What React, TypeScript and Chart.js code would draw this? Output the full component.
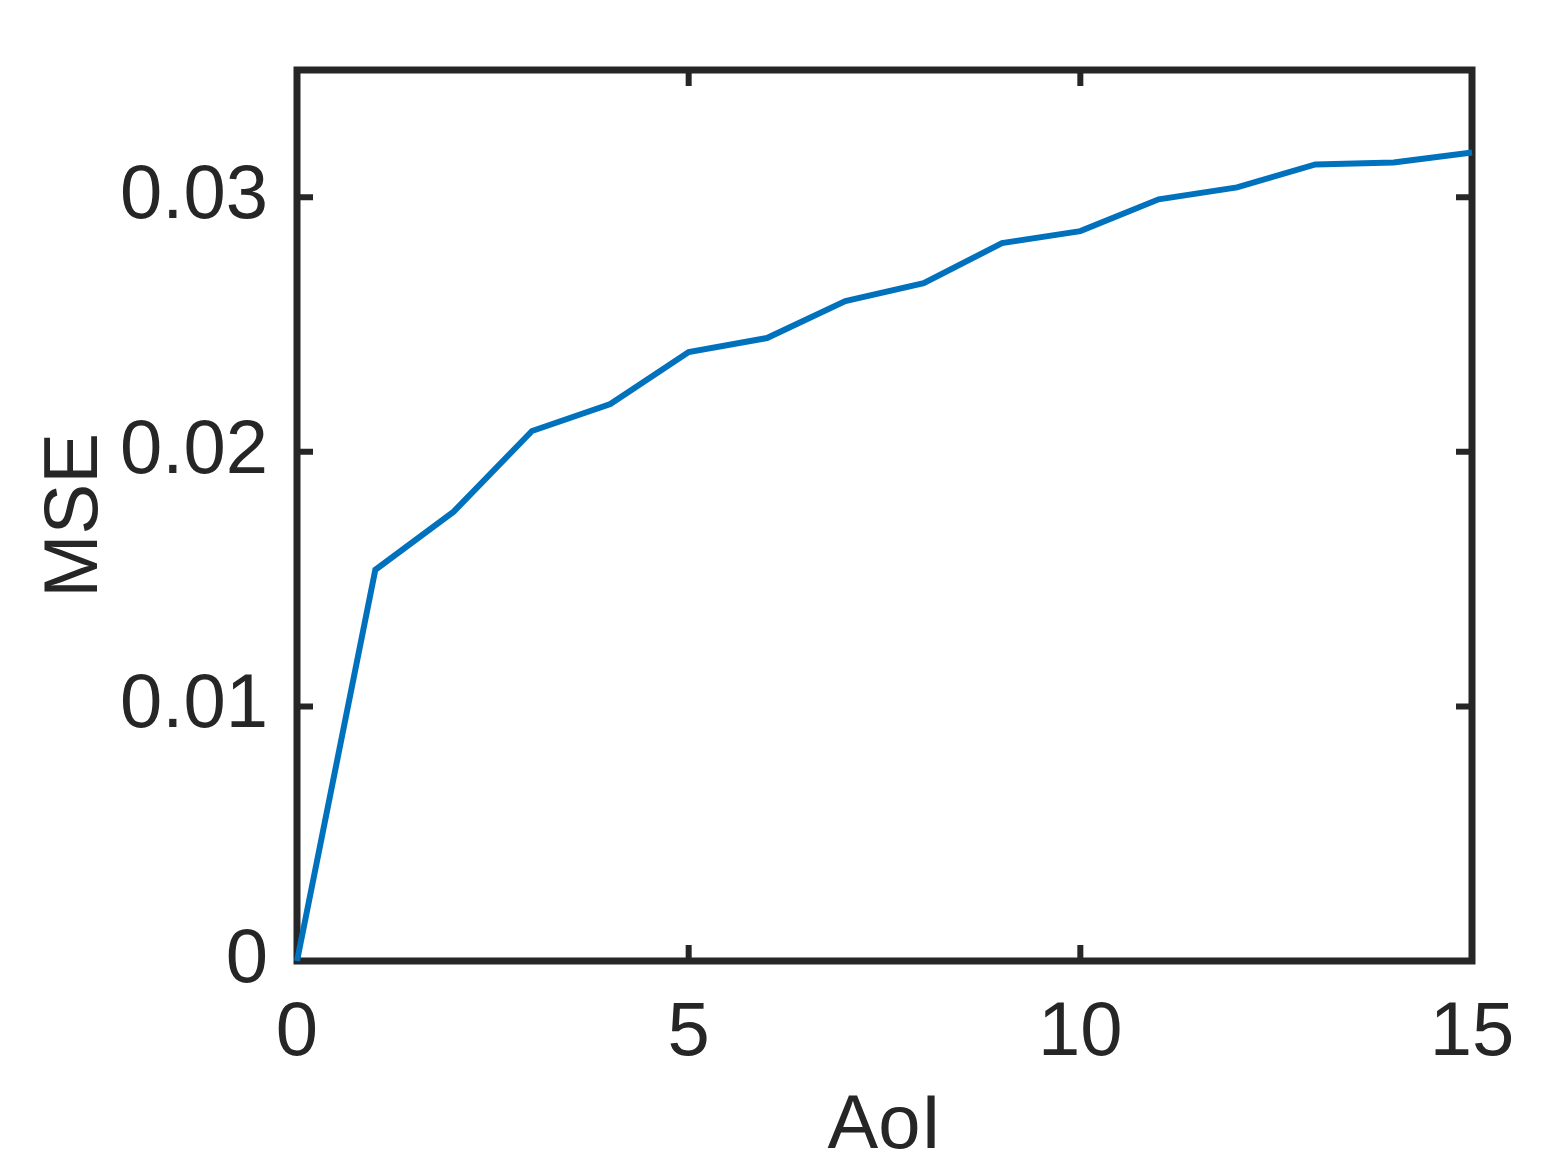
import React, { useEffect, useRef } from "react";
import { Chart, registerables } from "chart.js";

Chart.register(...registerables);

const aoiValues = [0, 1, 2, 3, 4, 5, 6, 7, 8, 9, 10, 11, 12, 13, 14, 15];
const mseValues = [
  0, 0.01537, 0.01765, 0.02082, 0.02188, 0.02392, 0.02447, 0.02592,
  0.02663, 0.0282, 0.02867, 0.02992, 0.03039, 0.03129, 0.03137, 0.03176,
];
const yTickValues = [0, 0.01, 0.02, 0.03];
const xTickValues = [0, 5, 10, 15];

const AXIS_COLOR = "#262626";
const LINE_COLOR = "#0072BD";
const FONT = "'Liberation Sans', Arial, Helvetica, sans-serif";

const framePlugin = {
  id: "matlabFrame",
  beforeDatasetsDraw(chart: any) {
    const { ctx, chartArea } = chart;
    const { left, right, top, bottom } = chartArea;
    const xs = chart.scales.x;
    const ys = chart.scales.y;
    const tick = 16;
    ctx.save();
    ctx.strokeStyle = AXIS_COLOR;
    ctx.lineWidth = 6;
    ctx.lineCap = "butt";
    ctx.beginPath();
    xTickValues.forEach((v) => {
      const px = xs.getPixelForValue(v);
      ctx.moveTo(px, bottom);
      ctx.lineTo(px, bottom - tick);
      ctx.moveTo(px, top);
      ctx.lineTo(px, top + tick);
    });
    yTickValues.forEach((v) => {
      const py = ys.getPixelForValue(v);
      ctx.moveTo(left, py);
      ctx.lineTo(left + tick, py);
      ctx.moveTo(right, py);
      ctx.lineTo(right - tick, py);
    });
    ctx.stroke();
    ctx.lineWidth = 7;
    ctx.lineJoin = "miter";
    ctx.beginPath();
    ctx.rect(left, top, right - left, bottom - top);
    ctx.stroke();
    ctx.restore();
  },
};

export default function App() {
  const canvasRef = useRef<HTMLCanvasElement | null>(null);

  useEffect(() => {
    const canvas = canvasRef.current;
    if (!canvas) return;
    const chart = new Chart(canvas, {
      type: "line",
      data: {
        datasets: [
          {
            data: aoiValues.map((x, i) => ({ x, y: mseValues[i] })),
            borderColor: LINE_COLOR,
            borderWidth: 6,
            pointRadius: 0,
            tension: 0,
            fill: false,
            clip: 4,
          },
        ],
      },
      options: {
        animation: false,
        responsive: false,
        devicePixelRatio: 1,
        layout: { padding: { top: 70, right: 84, left: 0, bottom: 0 } },
        plugins: {
          legend: { display: false },
          tooltip: { enabled: false },
        },
        scales: {
          x: {
            type: "linear",
            min: 0,
            max: 15,
            border: { display: false },
            grid: { display: false },
            afterFit: (scale: any) => {
              scale.height = 206;
            },
            afterBuildTicks: (scale: any) => {
              scale.ticks = xTickValues.map((v) => ({ value: v }));
            },
            ticks: {
              color: AXIS_COLOR,
              font: { family: FONT, size: 76 },
              padding: 19,
              maxRotation: 0,
              autoSkip: false,
              callback: (v: any) => String(v),
            },
            title: {
              display: true,
              text: "AoI",
              color: AXIS_COLOR,
              font: { family: FONT, size: 76 },
              padding: { top: 0, bottom: -6 },
            },
          },
          y: {
            type: "linear",
            min: 0,
            max: 0.035,
            border: { display: false },
            grid: { display: false },
            afterFit: (scale: any) => {
              scale.width = 297;
            },
            afterBuildTicks: (scale: any) => {
              scale.ticks = yTickValues.map((v) => ({ value: v }));
            },
            ticks: {
              color: AXIS_COLOR,
              font: { family: FONT, size: 76 },
              padding: 21,
              autoSkip: false,
              callback: (v: any) => (Number(v) === 0 ? "0" : Number(v).toFixed(2)),
            },
            title: {
              display: true,
              text: "MSE",
              color: AXIS_COLOR,
              font: { family: FONT, size: 76 },
              padding: { top: 30, bottom: 0 },
            },
          },
        },
      },
      plugins: [framePlugin],
    });
    return () => chart.destroy();
  }, []);

  return (
    <div
      style={{
        position: "absolute",
        left: 0,
        top: 0,
        width: 1556,
        height: 1167,
        background: "#ffffff",
      }}
    >
      <canvas ref={canvasRef} width={1556} height={1167} style={{ display: "block" }} />
    </div>
  );
}
